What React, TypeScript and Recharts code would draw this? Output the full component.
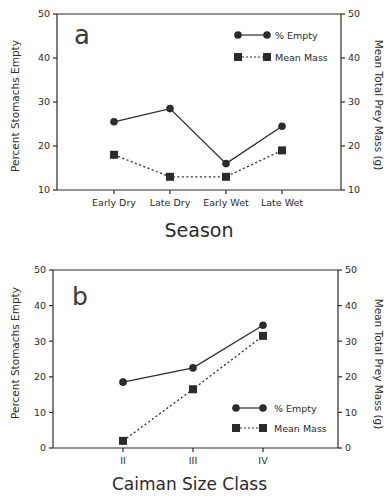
import React from 'react';
import { LineChart, Line, XAxis, YAxis, Legend, ReferenceLine } from 'recharts';

// Panel a: season
const seasons = ['Early Dry', 'Late Dry', 'Early Wet', 'Late Wet'];
const seasonEmpty = [25.5, 28.5, 16, 24.5];
const seasonMass = [18, 13, 13, 19];
const seasonTicks = [10, 20, 30, 40, 50];

// Panel b: caiman size class
const sizeClasses = ['II', 'III', 'IV'];
const sizeEmpty = [18.5, 22.5, 34.5];
const sizeMass = [2, 16.5, 31.5];
const sizeTicks = [0, 10, 20, 30, 40, 50];

const seriesNames = { empty: '% Empty', mass: 'Mean Mass' };
const leftTitle = 'Percent Stomachs Empty';
const rightTitle = 'Mean Total Prey Mass (g)';

const seasonData = seasons.map((c, i) => ({ cat: c, empty: seasonEmpty[i], mass: seasonMass[i] }));
const sizeData = sizeClasses.map((c, i) => ({ cat: c, empty: sizeEmpty[i], mass: sizeMass[i] }));

const ink = '#2b2b2b';
const font = '"DejaVu Sans", sans-serif';

function SquareDot(props: any) {
  const { cx, cy } = props;
  if (cx == null || cy == null) return null;
  return <rect x={cx - 4} y={cy - 4} width={8} height={8} fill={ink} />;
}

function LegendBox(props: any) {
  const { payload = [], gap = 22, span = 29, textX = 45 } = props;
  const order = ['empty', 'mass'];
  const items = order.map((k) => payload.find((p: any) => p.dataKey === k)).filter(Boolean);
  return (
    <svg width={140} height={gap + 20} style={{ display: 'block', overflow: 'visible' }}>
      {items.map((it: any, i: number) => {
        const y = 10 + i * gap;
        const isMass = it.dataKey === 'mass';
        const x1 = 8;
        const x2 = 8 + span;
        return (
          <g key={it.dataKey}>
            <line x1={x1} x2={x2} y1={y} y2={y} stroke={ink} strokeWidth={1.2} strokeDasharray={isMass ? '2 2' : undefined} />
            {isMass ? (
              <>
                <rect x={x1 - 4} y={y - 4} width={8} height={8} fill={ink} />
                <rect x={x2 - 4} y={y - 4} width={8} height={8} fill={ink} />
              </>
            ) : (
              <>
                <circle cx={x1} cy={y} r={3.8} fill={ink} />
                <circle cx={x2} cy={y} r={3.8} fill={ink} />
              </>
            )}
            <text x={textX} y={y} dominantBaseline="central" fontSize={9.5} fontFamily={font} fill={ink}>
              {it.value}
            </text>
          </g>
        );
      })}
    </svg>
  );
}

function leftLabel(dy: number) {
  return (p: any) => {
    const vb = p.viewBox;
    const x = 15;
    const y = vb.y + vb.height / 2 + dy;
    return (
      <text x={x} y={y} transform={`rotate(-90, ${x}, ${y})`} textAnchor="middle" dominantBaseline="central" fontSize={10.5} fontFamily={font} fill={ink}>
        {leftTitle}
      </text>
    );
  };
}

function rightLabel(dy: number) {
  return (p: any) => {
    const vb = p.viewBox;
    const x = 379;
    const y = vb.y + vb.height / 2 + dy;
    return (
      <text x={x} y={y} transform={`rotate(90, ${x}, ${y})`} textAnchor="middle" dominantBaseline="central" fontSize={10.5} fontFamily={font} fill={ink}>
        {rightTitle}
      </text>
    );
  };
}

function bottomLabel(text: string, size: number, dx: number, dyy: number) {
  return (p: any) => {
    const vb = p.viewBox;
    return (
      <text x={vb.x + vb.width / 2 + dx} y={vb.y + dyy} textAnchor="middle" dominantBaseline="central" fontSize={size} fontFamily={font} fill={ink}>
        {text}
      </text>
    );
  };
}

const tickStyle = { fontSize: 9.5, fontFamily: font, fill: ink };
const axisStroke = { stroke: ink, strokeWidth: 1.2 };

export default function App() {
  return (
    <div style={{ position: 'absolute', left: 0, top: 0, width: 384, height: 496, background: '#fff', fontFamily: font }}>
      <div style={{ position: 'absolute', left: 0, top: 0 }}>
        <LineChart width={384} height={240} data={seasonData} margin={{ top: 14, right: 0, bottom: 0, left: 0 }}>
          <XAxis dataKey="cat" height={50} padding={{ left: 57, right: 59 }} tick={tickStyle} tickSize={4} tickMargin={5} axisLine={axisStroke} tickLine={axisStroke} interval={0} label={{ content: bottomLabel('Season', 19, 0, 40) }} />
          <YAxis yAxisId="left" width={57} domain={[10, 50]} ticks={seasonTicks} tick={tickStyle} tickSize={4} tickMargin={3} axisLine={axisStroke} tickLine={axisStroke} label={{ content: leftLabel(4) }} />
          <YAxis yAxisId="right" orientation="right" width={43} domain={[10, 50]} ticks={seasonTicks} tick={tickStyle} tickSize={4} tickMargin={3} axisLine={axisStroke} tickLine={axisStroke} label={{ content: rightLabel(3) }} />
          <ReferenceLine yAxisId="left" y={50} stroke={ink} strokeWidth={1.2} />
          <Legend layout="horizontal" verticalAlign="middle" align="center" wrapperStyle={{ left: 230, top: 25, width: 140, height: 44 }} content={(p: any) => <LegendBox {...p} gap={22} span={29} textX={45} />} />
          <Line yAxisId="left" dataKey="empty" name={seriesNames.empty} stroke={ink} strokeWidth={1.3} dot={{ r: 3.8, fill: ink, stroke: ink, strokeWidth: 0 }} isAnimationActive={false} />
          <Line yAxisId="right" dataKey="mass" name={seriesNames.mass} stroke={ink} strokeWidth={1.3} strokeDasharray="2 2.5" dot={<SquareDot />} legendType="square" isAnimationActive={false} />
        </LineChart>
        <div style={{ position: 'absolute', left: 74, top: 20, fontSize: 26, fontFamily: font, color: '#3a3a3a', lineHeight: '30px' }}>a</div>
      </div>
      <div style={{ position: 'absolute', left: 0, top: 240 }}>
        <LineChart width={384} height={256} data={sizeData} margin={{ top: 30, right: 0, bottom: 0, left: 0 }}>
          <XAxis dataKey="cat" height={48} padding={{ left: 70, right: 75 }} tick={tickStyle} tickSize={4} tickMargin={5} axisLine={axisStroke} tickLine={axisStroke} interval={0} label={{ content: bottomLabel('Caiman Size Class', 17, -6, 36) }} />
          <YAxis yAxisId="left" width={53} domain={[0, 50]} ticks={sizeTicks} tick={tickStyle} tickSize={4} tickMargin={3} axisLine={axisStroke} tickLine={axisStroke} label={{ content: leftLabel(-6) }} />
          <YAxis yAxisId="right" orientation="right" width={46} domain={[0, 50]} ticks={sizeTicks} tick={tickStyle} tickSize={4} tickMargin={3} axisLine={axisStroke} tickLine={axisStroke} label={{ content: rightLabel(5) }} />
          <ReferenceLine yAxisId="left" y={50} stroke={ink} strokeWidth={1.2} />
          <Legend layout="horizontal" verticalAlign="middle" align="center" wrapperStyle={{ left: 228, top: 158, width: 140, height: 42 }} content={(p: any) => <LegendBox {...p} gap={20} span={27} textX={46} />} />
          <Line yAxisId="left" dataKey="empty" name={seriesNames.empty} stroke={ink} strokeWidth={1.3} dot={{ r: 3.8, fill: ink, stroke: ink, strokeWidth: 0 }} isAnimationActive={false} />
          <Line yAxisId="right" dataKey="mass" name={seriesNames.mass} stroke={ink} strokeWidth={1.3} strokeDasharray="2 2.5" dot={<SquareDot />} legendType="square" isAnimationActive={false} />
        </LineChart>
        <div style={{ position: 'absolute', left: 72, top: 42, fontSize: 25, fontFamily: font, color: '#3a3a3a', lineHeight: '30px' }}>b</div>
      </div>
    </div>
  );
}
